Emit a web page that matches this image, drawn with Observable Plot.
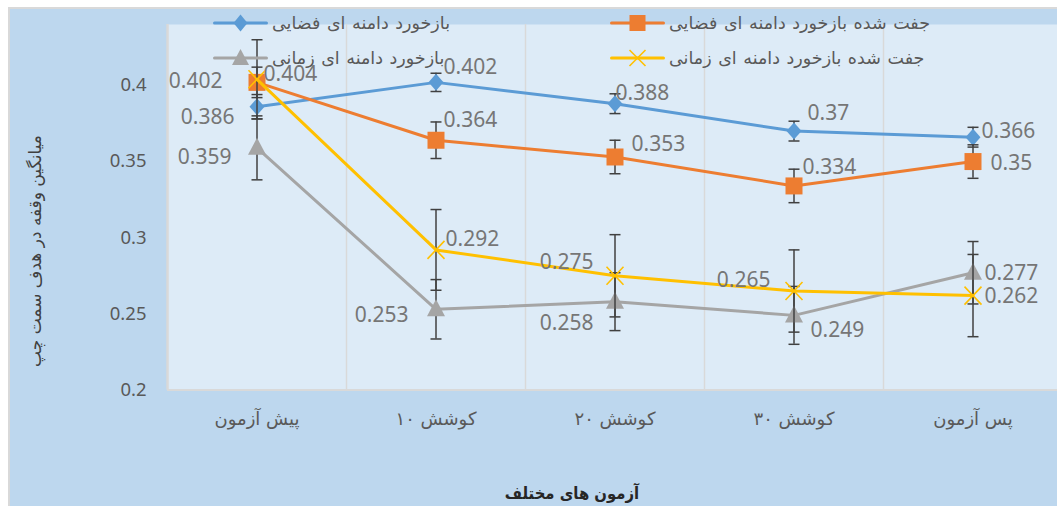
<!DOCTYPE html>
<html>
<head>
<meta charset="utf-8">
<script src="https://cdn.jsdelivr.net/npm/d3@7"></script>
<script src="https://cdn.jsdelivr.net/npm/@observablehq/plot@0.6"></script>
<style>
  html, body { margin: 0; padding: 0; background: #ffffff; overflow: hidden; }
  #wrap { position: relative; width: 1057px; height: 506px; }
  #bg { position: absolute; left: 8px; top: 7px; right: 0; bottom: 0; background: #BDD7EE;
        border-top: 2px solid #D9D9D9; border-left: 2px solid #D9D9D9; }
  #chart { position: absolute; left: 0; top: 0; }
  .legend-item { position: absolute; height: 20px; display: flex; align-items: center; }
  .legend-item svg { display: block; flex: none; }
  .legend-item span { font-family: "DejaVu Sans", sans-serif; font-size: 17.5px; color: #595959;
        margin-left: 4px; white-space: nowrap; direction: rtl; word-spacing: 1px; }
  .ytitle { position: absolute; left: 35px; top: 251px; transform: translate(-50%, -50%) rotate(-90deg);
        font-family: "DejaVu Sans", sans-serif; font-size: 17px; color: #404040; white-space: nowrap; direction: rtl; }
  .xtitle { position: absolute; left: 572px; top: 493px; transform: translate(-50%, -50%);
        font-family: "DejaVu Sans Condensed", "DejaVu Sans", sans-serif; font-weight: bold; font-size: 16.5px;
        color: #262626; white-space: nowrap; direction: rtl; }
</style>
</head>
<body>
<div id="wrap">
  <div id="bg"></div>
  <div id="chart"></div>
  <div id="legend"></div>
  <div class="ytitle">میانگین وقفه در هدف سمت چپ</div>
  <div class="xtitle">آزمون های مختلف</div>
</div>
<script>
// ---- data ----
const categories = ["پیش آزمون", "کوشش ۱۰", "کوشش ۲۰", "کوشش ۳۰", "پس آزمون"];
const seriesNames = [
  "بازخورد دامنه ای فضایی",
  "جفت شده بازخورد دامنه ای فضایی",
  "بازخورد دامنه ای زمانی",
  "جفت شده بازخورد دامنه ای زمانی"
];
const spatialFeedback        = [0.386, 0.402, 0.388, 0.370, 0.366];
const pairedSpatialFeedback  = [0.402, 0.364, 0.353, 0.334, 0.350];
const temporalFeedback       = [0.359, 0.253, 0.258, 0.249, 0.277];
const pairedTemporalFeedback = [0.404, 0.292, 0.275, 0.265, 0.262];
const spatialError           = [0.008, 0.006, 0.0065, 0.0065, 0.0065];
const pairedSpatialError     = [0.010, 0.012, 0.011, 0.011, 0.011];
const temporalError          = [0.021, 0.0195, 0.019, 0.019, 0.0205];
const pairedTemporalError    = [0.026, 0.0265, 0.027, 0.027, 0.027];
const yTicks = [0.2, 0.25, 0.3, 0.35, 0.4];

// ---- styles ----
const colors = ["#5B9BD5", "#ED7D31", "#A5A5A5", "#FFC000"];
const diamond = {draw(c) { c.moveTo(0, -8.5); c.lineTo(7.5, 0); c.lineTo(0, 8.5); c.lineTo(-7.5, 0); c.closePath(); }};
const square = {draw(c) { c.rect(-8.5, -8.5, 17, 17); }};
const triangle = {draw(c) { c.moveTo(0, -10); c.lineTo(9, 7); c.lineTo(-9, 7); c.closePath(); }};
const cross = {draw(c) { c.moveTo(-8.5, -9); c.lineTo(8.5, 9); c.moveTo(8.5, -9); c.lineTo(-8.5, 9); }};
const cap = {draw(c) { c.moveTo(-5.5, 0); c.lineTo(5.5, 0); }};
const symbols = [diamond, square, triangle, cross];

// label placement per point: [anchor, dx, dy]
const labelPlacement = [
  [["end", -22.5, 11], ["start", 7.5, -15], ["start", 0.5, -10.5], ["start", 13.5, -18], ["start", 8.5, -6]],
  [["end", -34.5, -1], ["start", 7.5, -20], ["start", 16.5, -13], ["start", 8.5, -19], ["start", 17.5, 1.5]],
  [["end", -25.5, 9], ["end", -27.5, 5.5], ["end", -21.5, 22], ["start", 16.5, 14.5], ["start", 11.5, 0.5]],
  [["start", 6.5, -5.5], ["start", 9.5, -11], ["end", -21.5, -13.5], ["end", -23.5, -11], ["start", 11.5, 1]]
];

const valueSets = [spatialFeedback, pairedSpatialFeedback, temporalFeedback, pairedTemporalFeedback];
const errorSets = [spatialError, pairedSpatialError, temporalError, pairedTemporalError];

const series = valueSets.map((vals, s) => vals.map((v, i) => ({
  i, v, lo: v - errorSets[s][i], hi: v + errorSets[s][i], s
})));

const marks = [
  Plot.frame({fill: "#DDEBF7", stroke: "none"}),
  Plot.gridX({ticks: [0.5, 1.5, 2.5, 3.5], stroke: "#D9D9D9", strokeOpacity: 1, strokeWidth: 1.5}),
  Plot.ruleX([-0.5], {stroke: "#D9D9D9", strokeWidth: 2.5}),
  Plot.ruleY([0.2], {stroke: "#D9D9D9", strokeWidth: 2}),
  Plot.axisY({ticks: yTicks, tickSize: 0, tickPadding: 21, fontSize: 18.5, color: "#595959",
              fontFamily: "'Noto Sans', sans-serif", label: null, tickFormat: d => String(d)}),
  Plot.axisX({ticks: [0, 1, 2, 3, 4], tickFormat: i => categories[i], tickSize: 0, tickPadding: 22,
              fontSize: 18, color: "#595959", fontFamily: "'DejaVu Sans', sans-serif", label: null})
];

series.forEach((data, s) => {
  marks.push(
    Plot.ruleX(data, {x: "i", y1: "lo", y2: "hi", stroke: "#404040", strokeWidth: 1.5}),
    Plot.dot(data, {x: "i", y: "lo", symbol: cap, stroke: "#404040", strokeWidth: 1.5, fill: "none"}),
    Plot.dot(data, {x: "i", y: "hi", symbol: cap, stroke: "#404040", strokeWidth: 1.5, fill: "none"}),
    Plot.lineY(data, {x: "i", y: "v", stroke: colors[s], strokeWidth: 3, strokeLinejoin: "round", strokeLinecap: "round"}),
    s === 3
      ? Plot.dot(data, {x: "i", y: "v", symbol: symbols[s], stroke: colors[s], strokeWidth: 1.6, fill: "none"})
      : Plot.dot(data, {x: "i", y: "v", symbol: symbols[s], fill: colors[s], stroke: "none"})
  );
});

series.forEach((data, s) => {
  data.forEach((d, i) => {
    const [anchor, dx, dy] = labelPlacement[s][i];
    marks.push(Plot.text([d], {x: "i", y: "v", text: d => String(d.v),
      textAnchor: anchor, dx, dy, fill: "#767676", fontSize: 21, fontFamily: "'Noto Sans', sans-serif"}));
  });
});

const chart = Plot.plot({
  width: 1057,
  height: 506,
  marginLeft: 167,
  marginRight: 0,
  marginTop: 24,
  marginBottom: 116.5,
  x: {type: "linear", domain: [-0.5, 4.5], range: [167, 1062]},
  y: {domain: [0.2, 0.44]},
  style: {background: "transparent", overflow: "visible", fontFamily: "'Noto Sans', sans-serif"},
  marks
});
document.getElementById("chart").appendChild(chart);

// ---- legend (overlaid as in the original) ----
const legendPos = [[213, 13], [610, 13], [213, 48], [610, 48]];
const legendSymbols = [
  '<path d="M27.5,1.5 L34.5,10 L27.5,18.5 L20.5,10Z" fill="#5B9BD5"/>',
  '<rect x="19.5" y="2" width="16" height="16" fill="#ED7D31"/>',
  '<path d="M27.5,1 L36,17 L19,17Z" fill="#A5A5A5"/>',
  '<path d="M19.5,2 L35.5,18 M35.5,2 L19.5,18" stroke="#FFC000" stroke-width="1.6"/>'
];
const legend = document.getElementById("legend");
seriesNames.forEach((name, s) => {
  const div = document.createElement("div");
  div.className = "legend-item";
  div.style.left = legendPos[s][0] + "px";
  div.style.top = legendPos[s][1] + "px";
  div.innerHTML = `<svg width="55" height="20"><line x1="1.5" y1="10" x2="53.5" y2="10" stroke="${colors[s]}" stroke-width="3" stroke-linecap="round"/>${legendSymbols[s]}</svg><span>${name}</span>`;
  legend.appendChild(div);
});
</script>
</body>
</html>
